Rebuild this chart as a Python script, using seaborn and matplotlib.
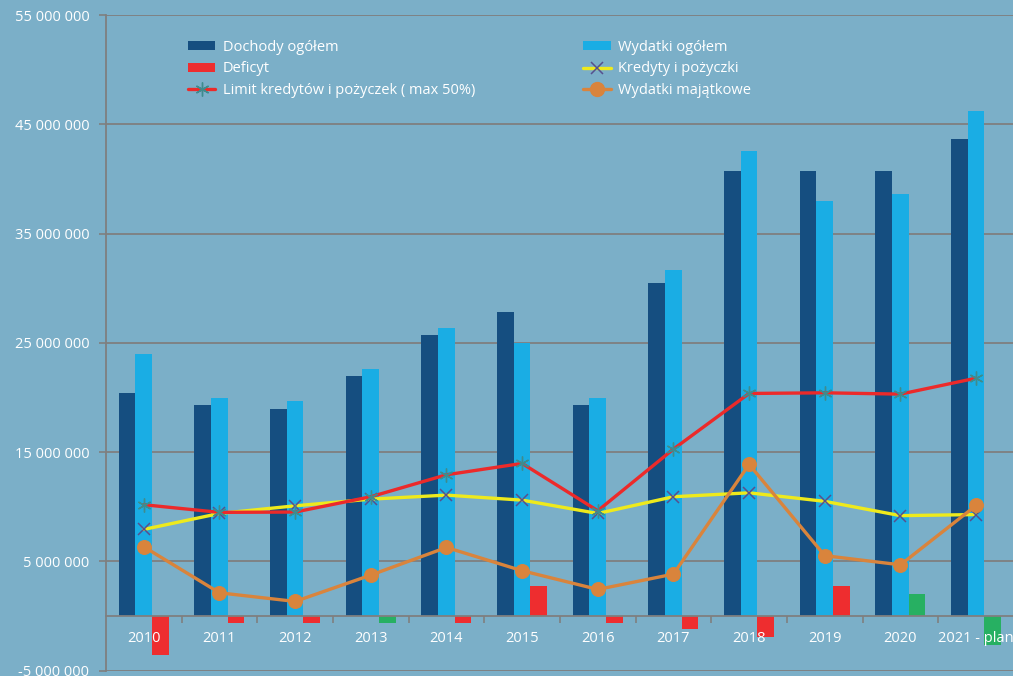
import numpy as np
import pandas as pd
import matplotlib
matplotlib.use('Agg')
import matplotlib.pyplot as plt
import seaborn as sns
from matplotlib.lines import Line2D
from matplotlib.patches import Patch
from matplotlib.ticker import FuncFormatter, FixedLocator

# ---- data (values in PLN) ----
years = ['2010', '2011', '2012', '2013', '2014', '2015', '2016', '2017',
         '2018', '2019', '2020', '2021 - plan']
dochody = [20.37e6, 19.33e6, 18.97e6, 21.99e6, 25.74e6, 27.81e6, 19.33e6, 30.47e6,
           40.71e6, 40.75e6, 40.71e6, 43.63e6]
wydatki = [23.97e6, 19.97e6, 19.64e6, 22.63e6, 26.35e6, 25.00e6, 19.97e6, 31.66e6,
           42.54e6, 38.01e6, 38.63e6, 46.24e6]
deficyt = [-3.57e6, -0.67e6, -0.67e6, -0.64e6, -0.64e6, 2.74e6, -0.67e6, -1.19e6,
           -1.89e6, 2.73e6, 2.00e6, -2.65e6]
deficyt_kolor = ['red', 'red', 'red', 'green', 'red', 'red', 'red', 'red',
                 'red', 'red', 'green', 'green']
kredyty = [7.93e6, 9.39e6, 10.09e6, 10.70e6, 11.07e6, 10.61e6, 9.39e6, 10.92e6,
           11.28e6, 10.50e6, 9.19e6, 9.29e6]
limit = [10.19e6, 9.49e6, 9.52e6, 10.92e6, 12.93e6, 13.97e6, 9.64e6, 15.28e6,
         20.37e6, 20.43e6, 20.31e6, 21.77e6]
majatkowe = [6.34e6, 2.13e6, 1.34e6, 3.75e6, 6.28e6, 4.15e6, 2.44e6, 3.84e6,
             13.88e6, 5.53e6, 4.69e6, 10.12e6]
y_ticks = [-5e6, 5e6, 15e6, 25e6, 35e6, 45e6, 55e6]

bar_series = ['Dochody ogółem', 'Wydatki ogółem', 'Deficyt']

# ---- style ----
BG = '#7BAFC8'
C_DOCH = '#154E80'
C_WYD = '#1AADE4'
C_RED = '#EE2D2F'
C_GREEN = '#27B062'
C_YEL = '#EEEA1C'
C_ORA = '#D9843C'
C_LIM = '#EC2A2A'
GRID = '#7F7F7F'

sns.set_theme(style='white')
plt.rcParams['font.family'] = ['Open Sans', 'DejaVu Sans']
plt.rcParams['axes.axisbelow'] = 'line'
FS = 10.5

fig = plt.figure(figsize=(10.13, 6.76), dpi=100, facecolor=BG)
ax = fig.add_axes([0.1046, 0.0078, 0.8963, 0.9700])
ax.set_facecolor(BG)

df = pd.DataFrame({
    'rok': years * 3,
    'seria': [s for s in bar_series for _ in years],
    'wartosc': dochody + wydatki + deficyt,
})
sns.barplot(data=df, x='rok', y='wartosc', hue='seria', hue_order=bar_series,
            order=years, palette=[C_DOCH, C_WYD, C_RED], width=0.66, gap=0,
            saturation=1, linewidth=0, legend=False, ax=ax)
for patch, k in zip(ax.containers[2], deficyt_kolor):
    patch.set_facecolor(C_GREEN if k == 'green' else C_RED)

xpos = np.arange(len(years))
sns.lineplot(x=xpos, y=kredyty, color=C_YEL, lw=2.4, marker='x', ms=9,
             mec='#56508E', mew=1.1, ax=ax, zorder=3)
sns.lineplot(x=xpos, y=limit, color=C_LIM, lw=2.4, marker=(6, 2, 0), ms=10,
             mec='#3E8C8E', mew=1.0, ax=ax, zorder=4)
sns.lineplot(x=xpos, y=majatkowe, color=C_ORA, lw=2.4, marker='o', ms=10,
             mec=C_ORA, mfc=C_ORA, ax=ax, zorder=5)

# gridlines behind bars
for yv in y_ticks:
    ax.axhline(yv, color=GRID, lw=1.3, zorder=0.5)

ax.set_axisbelow('line')
ax.set_ylim(-5e6, 55e6)
ax.set_xlim(-0.5, len(years) - 0.5)
ax.set_xlabel('')
ax.set_ylabel('')

ax.yaxis.set_major_locator(FixedLocator(y_ticks))
ax.yaxis.set_major_formatter(FuncFormatter(lambda v, p: f'{int(round(v)):,}'.replace(',', ' ')))
ax.tick_params(axis='y', colors=GRID, labelcolor='white', labelsize=FS,
               length=5, width=1.2, direction='out', pad=7, left=True)

ax.set_xticks(xpos)
ax.set_xticklabels(years)
ax.set_xticks(xpos[:-1] + 0.5, minor=True)
ax.tick_params(axis='x', which='major', length=0, labelcolor='white',
               labelsize=FS, pad=11)
ax.tick_params(axis='x', which='minor', length=5, width=1.2, color=GRID,
               direction='out', bottom=True)

for s in ['top', 'right']:
    ax.spines[s].set_visible(False)
ax.spines['bottom'].set_position(('data', 0))
ax.spines['bottom'].set_color(GRID)
ax.spines['bottom'].set_linewidth(1.3)
ax.spines['left'].set_color(GRID)
ax.spines['left'].set_linewidth(1.3)

handles = [
    Patch(facecolor=C_DOCH, edgecolor='none'),
    Patch(facecolor=C_RED, edgecolor='none'),
    Line2D([], [], color=C_LIM, lw=2.4, marker=(6, 2, 0), ms=10, mec='#3E8C8E', mew=1.0),
    Patch(facecolor=C_WYD, edgecolor='none'),
    Line2D([], [], color=C_YEL, lw=2.4, marker='x', ms=9, mec='#56508E', mew=1.1),
    Line2D([], [], color=C_ORA, lw=2.4, marker='o', ms=10, mec=C_ORA, mfc=C_ORA),
]
labels = ['Dochody ogółem', 'Deficyt', 'Limit kredytów i pożyczek ( max 50%)',
          'Wydatki ogółem', 'Kredyty i pożyczki', 'Wydatki majątkowe']
leg = ax.legend(handles, labels, ncol=2, loc='upper left',
                bbox_to_anchor=(0.09, 0.962), frameon=False, fontsize=FS,
                borderpad=0, borderaxespad=0, handlelength=1.9,
                handleheight=0.55, handletextpad=0.5, labelspacing=0.45,
                columnspacing=7.4)
for t in leg.get_texts():
    t.set_color('white')

fig.savefig('out.png', dpi=100, facecolor=BG)
